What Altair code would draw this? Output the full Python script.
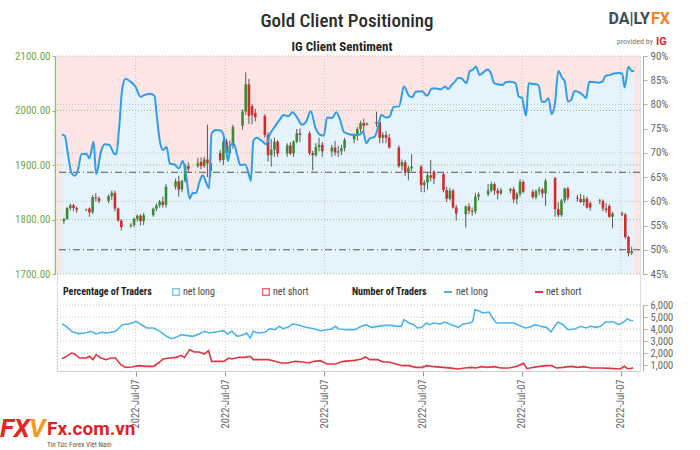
import altair as alt
import pandas as pd

# ---------------- data ----------------
# daily XAU/USD candles, one per weekday session 2022-01-10 .. 2022-07-07
session_dates = pd.bdate_range("2022-01-10", "2022-07-07")
price_open = [1797, 1801, 1821, 1826, 1821,  1818, 1820, 1813, 1841, 1839,
              1834, 1843, 1849, 1820, 1798,  1788, 1790, 1801, 1807, 1797,
              1808, 1820, 1826, 1833, 1827,  1860, 1870, 1855, 1871, 1898,
              1898, 1906, 1898, 1910, 1903,  1922, 1909, 1943, 1922, 1936,
              1972, 1998, 2048, 2008, 1995,  1990, 1955, 1918, 1928, 1943,
              1921, 1936, 1921, 1943, 1958,  1958, 1922, 1918, 1933, 1937,
              1925, 1932, 1923, 1925, 1931,  1947, 1954, 1966, 1977, 1974,
              1976, 1979, 1950, 1955, 1950,  1932, 1898, 1905, 1886, 1894,
              1897, 1863, 1868, 1881, 1888,  1883, 1854, 1838, 1853, 1822,
              1810, 1824, 1816, 1815, 1842,  1846, 1853, 1865, 1853, 1848,
              1853, 1856, 1837, 1847, 1869,  1851, 1841, 1852, 1855, 1848,
              1876, 1819, 1808, 1835, 1857,  1840, 1838, 1832, 1838, 1830,
              1835, 1834, 1820, 1825, 1805,  1811, 1809, 1768, 1738]
price_high = [1803, 1823, 1829, 1829, 1824,  1820, 1822, 1845, 1848, 1842,
              1846, 1853, 1853, 1822, 1800,  1793, 1804, 1809, 1810, 1812,
              1822, 1829, 1836, 1842, 1865,  1875, 1880, 1873, 1902, 1905,
              1913, 1914, 1915, 1974, 1914,  1928, 1950, 1948, 1945, 1974,
              2002, 2070, 2058, 2012, 2003,  1993, 1960, 1948, 1950, 1946,
              1940, 1942, 1945, 1966, 1967,  1962, 1926, 1940, 1950, 1942,
              1937, 1944, 1935, 1937, 1950,  1958, 1970, 1981, 1985, 1978,
              1998, 1985, 1960, 1962, 1957,  1936, 1910, 1909, 1898, 1920,
              1900, 1872, 1885, 1909, 1890,  1886, 1860, 1858, 1856, 1827,
              1826, 1830, 1822, 1849, 1850,  1865, 1869, 1868, 1858, 1858,
              1858, 1860, 1850, 1874, 1872,  1855, 1855, 1860, 1858, 1875,
              1878, 1832, 1838, 1858, 1860,  1845, 1847, 1845, 1842, 1833,
              1838, 1837, 1830, 1828, 1814,  1815, 1812, 1770, 1750]
price_low = [1792, 1799, 1817, 1815, 1812,  1815, 1805, 1810, 1833, 1830,
             1830, 1836, 1815, 1796, 1780,  1785, 1786, 1796, 1789, 1790,
             1805, 1815, 1822, 1822, 1822,  1855, 1842, 1850, 1868, 1886,
             1895, 1892, 1895, 1878, 1878,  1905, 1900, 1915, 1918, 1930,
             1965, 1992, 1975, 1975, 1980,  1950, 1906, 1897, 1915, 1915,
             1915, 1918, 1915, 1940, 1942,  1918, 1890, 1915, 1925, 1915,
             1915, 1917, 1915, 1918, 1925,  1940, 1945, 1960, 1960, 1972,
             1970, 1940, 1940, 1940, 1930,  1895, 1890, 1880, 1872, 1889,
             1850, 1850, 1855, 1870, 1865,  1850, 1832, 1835, 1820, 1798,
             1785, 1810, 1807, 1810, 1835,  1843, 1850, 1845, 1837, 1845,
             1848, 1830, 1828, 1842, 1848,  1838, 1837, 1845, 1840, 1825,
             1805, 1804, 1805, 1830, 1835,  1833, 1830, 1825, 1820, 1816,
             1828, 1815, 1812, 1803, 1784,  1806, 1764, 1732, 1735]
price_close = [1801, 1821, 1826, 1821, 1818,  1819, 1813, 1841, 1839, 1834,
               1843, 1849, 1820, 1798, 1786,  1790, 1801, 1807, 1797, 1808,
               1820, 1826, 1833, 1827, 1860,  1870, 1855, 1871, 1898, 1893,
               1903, 1898, 1910, 1903, 1889,  1909, 1943, 1922, 1936, 1970,
               1998, 2048, 1990, 1992, 1988,  1955, 1918, 1928, 1943, 1921,
               1936, 1921, 1943, 1958, 1955,  1922, 1918, 1933, 1937, 1925,
               1932, 1923, 1925, 1931, 1946,  1954, 1966, 1977, 1972, 1976,
               1979, 1950, 1955, 1950, 1932,  1898, 1905, 1886, 1894, 1897,
               1863, 1868, 1881, 1877, 1875,  1854, 1838, 1853, 1822, 1811,
               1824, 1816, 1814, 1842, 1846,  1853, 1865, 1853, 1848, 1854,
               1856, 1837, 1847, 1869, 1851,  1841, 1852, 1855, 1848, 1871,
               1819, 1808, 1835, 1857, 1840,  1838, 1832, 1838, 1822, 1822,
               1834, 1820, 1817, 1805, 1811,  1809, 1768, 1738, 1742]

# IG client sentiment: % of traders net long (day offset from 2022-01-10)
sent_day = [-0.6, 0.3, 1.3, 2.4, 3.4, 4.4, 5.5, 7.0, 8.0, 9.3,
            10.1, 11.6, 12.7, 14.2, 15.7, 16.4, 17.3, 18.3, 19.3, 20.9,
            22.4, 24.0, 25.5, 27.0, 28.4, 29.1, 30.1, 31.1, 32.2, 33.2,
            34.7, 36.0, 37.3, 38.3, 39.4, 40.4, 41.4, 42.5, 43.5, 44.5,
            45.5, 46.3, 47.6, 49.1, 50.2, 50.9, 51.5, 52.2, 53.2, 54.3,
            55.3, 56.8, 57.9, 58.6, 59.4, 60.4, 62.0, 63.5, 64.5, 66.1,
            67.6, 68.9, 70.4, 71.7, 73.3, 74.6, 75.9, 77.4, 78.9, 80.4,
            81.5, 82.5, 84.1, 85.4, 86.6, 87.8, 89.7, 91.2, 92.8, 93.8,
            94.8, 95.9, 97.4, 98.4, 99.5, 101.0, 102.0, 103.4, 105.1, 106.6,
            108.2, 109.2, 110.3, 112.3, 113.8, 115.4, 116.9, 118.1, 119.5, 120.5,
            121.5, 122.6, 123.6, 124.6, 126.2, 127.2, 128.2, 129.2, 130.3, 131.3,
            132.8, 133.9, 134.9, 136.4, 137.5, 138.5, 140.0, 141.6, 142.6, 143.6,
            144.3, 144.9, 145.7, 147.2, 148.8, 149.8, 150.8, 151.9, 152.9, 153.9,
            155.0, 156.3, 157.0, 158.0, 159.0, 160.1, 161.6, 162.6, 163.7, 164.7,
            166.2, 167.8, 168.8, 169.8, 171.4, 172.4, 173.9, 175.0, 175.8, 177.0,
            178.0, 178.8]
sent_long_pct = [73.8, 73.5, 69.6, 65.8, 65.3, 66.5, 69.7, 69.8, 68.9, 72.3,
                 65.6, 70.2, 71.8, 71.7, 69.9, 69.7, 75.1, 83.3, 85.3, 84.7,
                 83.7, 81.6, 82.0, 82.2, 81.8, 77.8, 72.3, 70.6, 71.2, 67.8,
                 67.6, 66.8, 68.3, 65.4, 60.6, 61.7, 61.7, 64.0, 65.4, 64.0,
                 62.7, 74.0, 74.7, 74.6, 73.3, 70.2, 68.3, 71.6, 72.0, 69.6,
                 67.5, 67.6, 65.8, 64.2, 72.5, 73.1, 72.5, 71.8, 73.7, 75.4,
                 76.8, 77.8, 77.6, 78.4, 77.1, 75.8, 76.4, 78.6, 75.1, 73.7,
                 73.6, 77.3, 77.2, 78.4, 76.8, 74.3, 73.8, 73.7, 73.8, 74.4,
                 72.0, 73.0, 73.3, 75.1, 77.8, 77.3, 77.4, 79.5, 79.6, 83.7,
                 81.8, 81.5, 82.6, 82.7, 81.8, 83.3, 83.3, 83.1, 83.7, 83.2,
                 84.0, 84.7, 85.5, 85.4, 84.4, 86.8, 87.2, 87.8, 86.1, 86.5,
                 87.2, 86.4, 84.4, 84.1, 84.0, 84.6, 84.7, 84.4, 81.6, 81.4,
                 79.2, 77.7, 84.4, 84.2, 84.0, 80.6, 80.5, 81.3, 78.0, 79.9,
                 86.9, 85.4, 84.8, 80.6, 80.9, 82.8, 82.5, 82.0, 81.3, 84.7,
                 84.6, 84.5, 84.7, 85.9, 86.1, 86.4, 86.5, 86.4, 83.5, 87.8,
                 86.9, 86.9]

# Number of traders
long_day = [-0.6, 0.8, 2.4, 4.4, 6.5, 8.5, 10.1, 11.6, 13.7, 16.2,
            18.3, 20.3, 21.4, 22.7, 23.9, 26.0, 28.1, 30.1, 32.2, 33.7,
            35.2, 36.8, 38.3, 40.4, 42.4, 44.0, 45.5, 47.6, 50.1, 51.2,
            52.7, 54.3, 55.8, 57.3, 58.4, 59.4, 60.9, 63.0, 64.5, 66.1,
            67.6, 68.6, 70.2, 71.7, 73.8, 75.8, 78.4, 80.4, 82.5, 84.0,
            85.1, 86.1, 88.2, 91.2, 93.3, 94.8, 96.4, 98.4, 100.5, 102.5,
            104.6, 105.8, 106.6, 108.2, 109.7, 110.8, 112.3, 113.6, 114.7, 115.9,
            117.9, 119.5, 121.5, 123.6, 125.1, 127.2, 128.2, 128.9, 130.3, 131.3,
            133.3, 134.4, 135.6, 138.5, 141.1, 142.6, 144.6, 146.2, 147.7, 149.3,
            151.3, 152.7, 153.9, 154.9, 156.5, 158.0, 160.1, 162.1, 163.7, 165.2,
            166.7, 168.3, 169.8, 172.4, 173.9, 175.5, 176.7, 177.5, 178.5]
long_count = [4416, 4222, 3805, 3611, 3666, 3805, 3583, 3722, 3666, 3805,
              4361, 4416, 4500, 4638, 4416, 4083, 4083, 3805, 3388, 3194,
              3305, 3527, 3472, 3388, 3583, 3805, 3666, 3750, 3861, 3583,
              3805, 3388, 3472, 3666, 3250, 3805, 3666, 3722, 4027, 3944,
              4222, 4027, 4138, 4416, 4305, 4138, 4027, 3861, 3944, 4000,
              4222, 4000, 3944, 3944, 4222, 4361, 4138, 4222, 4305, 4305,
              4222, 4222, 4777, 4500, 4361, 4083, 4138, 4500, 4361, 4500,
              4416, 4583, 4361, 4138, 4416, 4500, 4638, 5611, 5472, 5333,
              5416, 4916, 4500, 4500, 4500, 4305, 4083, 4166, 4361, 4222,
              4138, 3750, 4222, 4583, 4361, 3944, 4000, 4222, 4083, 4222,
              4138, 4222, 4583, 4583, 4361, 4583, 4860, 4722, 4694]
short_day = [-0.6, 0.8, 2.4, 3.4, 4.9, 7.0, 8.0, 9.1, 10.1, 11.6,
             13.2, 14.7, 16.2, 17.8, 19.3, 21.4, 23.4, 25.5, 28.1, 29.6,
             31.1, 33.2, 35.2, 36.8, 37.8, 39.4, 40.9, 42.4, 44.0, 45.3,
             46.3, 48.6, 50.1, 51.7, 52.7, 54.8, 56.8, 58.4, 59.4, 61.4,
             64.0, 65.6, 68.1, 70.2, 72.7, 74.8, 76.8, 78.4, 80.4, 82.5,
             85.1, 87.6, 91.2, 93.3, 94.5, 95.9, 98.4, 100.0, 102.0, 104.1,
             106.1, 108.2, 110.2, 112.3, 113.8, 115.9, 119.0, 122.0, 123.6, 125.6,
             127.7, 129.2, 130.8, 132.8, 134.9, 137.0, 139.5, 142.1, 144.1, 145.2,
             147.2, 149.3, 151.3, 152.9, 154.4, 156.5, 159.0, 161.1, 163.1, 165.2,
             168.3, 171.4, 174.4, 175.7, 176.7, 178.5]
short_count = [1527, 1722, 1999, 1916, 1583, 1583, 1722, 1444, 1861, 1583,
               1444, 1583, 1583, 1027, 805, 833, 944, 888, 888, 1166,
               1499, 1583, 1638, 1805, 1638, 2277, 2083, 2083, 1916, 2194,
               1305, 1305, 1305, 1583, 1499, 1638, 1638, 1722, 1444, 1444,
               1444, 1360, 1166, 1166, 1305, 1249, 1166, 1305, 1360, 1083,
               1083, 1305, 1388, 1499, 1666, 1444, 1444, 1249, 1249, 1083,
               944, 944, 805, 805, 944, 861, 805, 722, 666, 750,
               805, 750, 861, 805, 861, 750, 750, 888, 1138, 694,
               805, 888, 944, 944, 750, 805, 888, 805, 861, 750,
               750, 722, 666, 888, 694, 750]

xtick_day = [22.5, 50.6, 81.7, 112.5, 143.6, 174.6]
xtick_label = "2022-Jul-07"
price_ticks = [1700, 1800, 1900, 2000, 2100]
pct_ticks = [45, 50, 55, 60, 65, 70, 75, 80, 85, 90]
pct_grid = [60, 70, 80]
pct_ref = [50, 66]
trader_ticks = [1000, 2000, 3000, 4000, 5000, 6000]

# ---------------- frames ----------------
candles = pd.DataFrame({
    "t": (session_dates - pd.Timestamp("2022-01-10")).days,
    "o": price_open, "h": price_high, "l": price_low, "c": price_close})
sent = pd.DataFrame({"t": sent_day, "pct": sent_long_pct})
longs = pd.DataFrame({"t": long_day, "n": long_count})
shorts = pd.DataFrame({"t": short_day, "n": short_count})
one = pd.DataFrame({"k": [0]})

# ---------------- styling ----------------
W, H = 583, 315
TOP_H = 218
LOW_TOP = 249
NARROW = "Liberation Sans Narrow, Roboto Condensed, Arial Narrow, Roboto, sans-serif"
PINK = "#fde5e6"
LIGHT_BLUE = "#e5f3fc"
SENT_BLUE = "#2f9ee8"
GREEN = "#3d8b2f"
RED = "#d42a2a"
LINE_BLUE = "#4db3f0"
LINE_RED = "#e23440"

xscale = alt.Scale(domain=[-0.6, 179.05], nice=False, zero=False)
xaxis = alt.Axis(values=xtick_day, labelExpr=f"'{xtick_label}'", labelAngle=-90,
                 labelAlign="right", labelBaseline="middle", labelFont=NARROW,
                 labelFontSize=10.5, labelColor="#666", labelPadding=3,
                 tickColor="#999", tickSize=5, domainColor="#bbb", domainDash=[1, 2],
                 grid=False, title=None)


def X(field="t"):
    return alt.X(f"{field}:Q", scale=xscale, axis=xaxis)


price_scale = alt.Scale(domain=[1700, 2100], range=[TOP_H, 0], nice=False, zero=False)
pct_scale = alt.Scale(domain=[45, 90], range=[TOP_H, 0], nice=False, zero=False)
trader_scale = alt.Scale(domain=[500, 6000], range=[H, LOW_TOP], nice=False, zero=False)

price_axis = alt.Axis(orient="left", values=price_ticks, format=".2f", labelColor="#74a84a",
                      labelFont=NARROW, labelFontSize=11, domainColor="#8fc064",
                      domainWidth=1.5, tickColor="#8fc064", tickSize=3, offset=2,
                      labelPadding=2, grid=False, title=None)
pct_axis = alt.Axis(orient="right", values=pct_ticks, labelExpr="datum.value + '%'",
                    labelColor="#666", labelFont=NARROW, labelFontSize=11,
                    domainColor="#aaa", tickColor="#aaa", tickSize=4, offset=3,
                    labelPadding=3, grid=False, title=None)
trader_axis = alt.Axis(orient="right", values=trader_ticks, labelColor="#666",
                       labelFont=NARROW, labelFontSize=10.5, domainColor="#aaa",
                       tickColor="#aaa", tickSize=4, offset=3, labelPadding=3,
                       grid=False, title=None)


def txt(text, x, y, **kw):
    return alt.Chart(one).mark_text(**kw).encode(
        x=alt.value(x), y=alt.value(y), text=alt.value(text))


# ---------------- layers ----------------
bg = alt.Chart(one).mark_rect(color=PINK).encode(
    x=alt.value(0), x2=alt.value(W), y=alt.value(0), y2=alt.value(TOP_H))

area = alt.Chart(sent).mark_area(color=LIGHT_BLUE, interpolate="monotone").encode(
    x=X(), y=alt.Y("pct:Q", scale=pct_scale, axis=None), y2=alt.datum(45))

price_grid = alt.Chart(pd.DataFrame({"v": price_ticks})).mark_rule(
    color="#96c474", strokeDash=[1, 2], strokeWidth=1).encode(
    y=alt.Y("v:Q", scale=price_scale, axis=price_axis))

pct_grid_l = alt.Chart(pd.DataFrame({"v": pct_grid})).mark_rule(
    color="#c4c4c4", strokeDash=[1, 2], strokeWidth=1).encode(
    y=alt.Y("v:Q", scale=pct_scale, axis=None))

vgrid_top = alt.Chart(pd.DataFrame({"d": xtick_day})).mark_rule(
    color="#c4c4c4", strokeDash=[1, 2], strokeWidth=1).encode(
    x=X("d"), y=alt.value(0), y2=alt.value(TOP_H))

refs = alt.Chart(pd.DataFrame({"v": pct_ref})).mark_rule(
    color="#555", strokeDash=[7, 3, 1, 3], strokeWidth=1).encode(
    y=alt.Y("v:Q", scale=pct_scale, axis=None))

wicks = alt.Chart(candles).mark_rule(color="#5a5a5a", strokeWidth=1).encode(
    x=X(), y=alt.Y("l:Q", scale=price_scale, axis=None), y2="h:Q")

bodies = alt.Chart(candles).mark_bar(size=2.6).encode(
    x=X(), y=alt.Y("o:Q", scale=price_scale, axis=None), y2="c:Q",
    color=alt.condition("datum.c >= datum.o", alt.value(GREEN), alt.value(RED)))

sent_line = alt.Chart(sent).mark_line(color=SENT_BLUE, strokeWidth=2,
                                      interpolate="monotone").encode(
    x=X(), y=alt.Y("pct:Q", scale=pct_scale, axis=pct_axis))

# lower panel
trader_grid = alt.Chart(pd.DataFrame({"v": trader_ticks})).mark_rule(
    color="#c8c8c8", strokeDash=[1, 2], strokeWidth=1).encode(
    y=alt.Y("v:Q", scale=trader_scale, axis=trader_axis))

vgrid_low = alt.Chart(pd.DataFrame({"d": xtick_day})).mark_rule(
    color="#c8c8c8", strokeDash=[1, 2], strokeWidth=1).encode(
    x=X("d"), y=alt.value(LOW_TOP), y2=alt.value(H))

low_left = alt.Chart(one).mark_rule(color="#c8c8c8", strokeDash=[1, 2]).encode(
    x=alt.value(0), y=alt.value(LOW_TOP), y2=alt.value(H))

long_line = alt.Chart(longs).mark_line(color=LINE_BLUE, strokeWidth=1.6).encode(
    x=X(), y=alt.Y("n:Q", scale=trader_scale, axis=None))
short_line = alt.Chart(shorts).mark_line(color=LINE_RED, strokeWidth=1.6).encode(
    x=X(), y=alt.Y("n:Q", scale=trader_scale, axis=None))

# legend row
LEG_Y = 236
legend = [
    txt("Percentage of Traders", 6, LEG_Y, align="left", baseline="middle",
        font=NARROW, fontSize=10, fontWeight="bold", color="#222"),
    alt.Chart(one).mark_point(shape="square", filled=False, size=45, strokeWidth=1.5,
                              color=LINE_BLUE).encode(x=alt.value(119), y=alt.value(LEG_Y)),
    txt("net long", 126, LEG_Y, align="left", baseline="middle", font=NARROW,
        fontSize=10, color="#444"),
    alt.Chart(one).mark_point(shape="square", filled=False, size=45, strokeWidth=1.5,
                              color=LINE_RED).encode(x=alt.value(209), y=alt.value(LEG_Y)),
    txt("net short", 216, LEG_Y, align="left", baseline="middle", font=NARROW,
        fontSize=10, color="#444"),
    txt("Number of Traders", 295, LEG_Y, align="left", baseline="middle",
        font=NARROW, fontSize=10, fontWeight="bold", color="#222"),
    alt.Chart(one).mark_rule(color=LINE_BLUE, strokeWidth=2).encode(
        x=alt.value(387), x2=alt.value(395), y=alt.value(LEG_Y)),
    txt("net long", 399, LEG_Y, align="left", baseline="middle", font=NARROW,
        fontSize=10, color="#444"),
    alt.Chart(one).mark_rule(color=LINE_RED, strokeWidth=2).encode(
        x=alt.value(478), x2=alt.value(486), y=alt.value(LEG_Y)),
    txt("net short", 489, LEG_Y, align="left", baseline="middle", font=NARROW,
        fontSize=10, color="#444"),
]

titles = [
    txt("Gold Client Positioning", 290, -35, align="center", baseline="middle",
        font=NARROW, fontSize=19, fontWeight=500, color="#2b2b2b"),
    txt("IG Client Sentiment", 285, -9, align="center", baseline="middle",
        font=NARROW, fontSize=13, fontWeight="bold", color="#222"),
    txt("DA|LY", 593, -37, align="right", baseline="middle", font="Roboto",
        fontSize=16, fontWeight="bold", color="#3d4b5c"),
    txt("FX", 594, -37, align="left", baseline="middle", font="Roboto",
        fontSize=16, fontWeight="bold", color="#f5821f"),
    txt("provided by", 596, -14, align="right", baseline="middle", font=NARROW,
        fontSize=8, color="#777"),
    txt("IG", 599, -14, align="left", baseline="middle", font="Roboto",
        fontSize=11, fontWeight="bold", color="#e4202e"),
    txt("FX", -57, 373, align="left", baseline="middle", font="Roboto",
        fontSize=26, fontWeight="bold", fontStyle="italic", color="#e8251f"),
    txt("V", -28, 373, align="left", baseline="middle", font="Roboto",
        fontSize=26, fontWeight="bold", fontStyle="italic", color="#f39a1e"),
    txt("Fx.com.vn", -10, 373, align="left", baseline="middle", font="Roboto",
        fontSize=19, fontWeight="bold", color="#e21f26"),
    txt("Tin Tức Forex Việt Nam", -10, 389, align="left", baseline="middle",
        font=NARROW, fontSize=7, color="#555"),
]

chart = alt.layer(
    bg, area, price_grid, pct_grid_l, vgrid_top, refs, wicks, bodies, sent_line,
    trader_grid, vgrid_low, low_left, long_line, short_line,
    *legend, *titles,
).resolve_scale(y="independent").properties(
    width=W, height=H,
    padding={"left": 57, "top": 56, "right": 60, "bottom": 79},
    autosize=alt.AutoSizeParams(type="none"),
    background="white",
).configure_view(stroke=None).configure(font="Roboto")

chart.save("out.html", embed_options={"renderer": "svg", "actions": False})
